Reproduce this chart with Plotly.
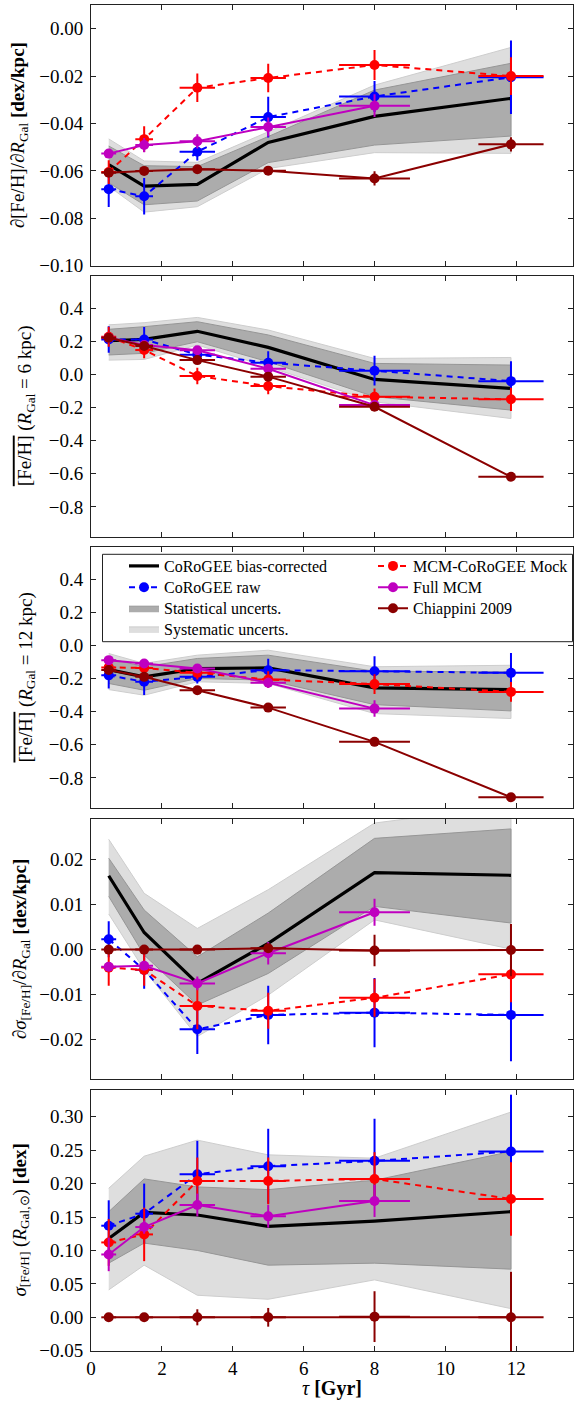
import plotly.graph_objects as go

# ---------------- data ----------------
tau = [0.5, 1.5, 3.0, 5.0, 8.0, 11.85]
tau_err = [0.21, 0.25, 0.5, 0.5, 1.0, 0.92]
tau_mcm = [0.5, 1.5, 3.0, 5.0, 8.0]
tau_mcm_err = [0.21, 0.25, 0.5, 0.5, 1.0]

# Panel 1: d[Fe/H]/dR
grad_corr = [-0.0574, -0.0664, -0.0657, -0.0480, -0.0370, -0.0294]
grad_stat_lo = [-0.0650, -0.0743, -0.0727, -0.0565, -0.0491, -0.0453]
grad_stat_hi = [-0.0495, -0.0578, -0.0582, -0.0455, -0.0259, -0.0146]
grad_sys_lo = [-0.0665, -0.0774, -0.0751, -0.0590, -0.0523, -0.0526]
grad_sys_hi = [-0.0465, -0.0558, -0.0564, -0.0435, -0.0238, -0.0079]
grad_raw = [-0.0677, -0.0707, -0.0519, -0.0373, -0.0286, -0.0205]
grad_raw_err = [0.0075, 0.0077, 0.0037, 0.0086, 0.0065, 0.0155]
grad_mock = [-0.0605, -0.0466, -0.0249, -0.0208, -0.0153, -0.0200]
grad_mock_err = [0.0050, 0.0054, 0.0060, 0.0060, 0.0063, 0.0080]
grad_mcm = [-0.0527, -0.0491, -0.0475, -0.0415, -0.0325]
grad_mcm_err = [0.0015, 0.0030, 0.0030, 0.0040, 0.0048]
grad_chi = [-0.0608, -0.0600, -0.0593, -0.0599, -0.0632, -0.0488]
grad_chi_err = [0.0005, 0.0005, 0.0005, 0.0010, 0.0030, 0.0030]

# Panel 2: mean [Fe/H] at R = 6 kpc
fe6_corr = [0.204, 0.212, 0.261, 0.164, -0.030, -0.084]
fe6_stat_lo = [0.118, 0.128, 0.198, 0.077, -0.134, -0.215]
fe6_stat_hi = [0.273, 0.289, 0.319, 0.239, 0.067, 0.057]
fe6_sys_lo = [0.087, 0.091, 0.178, 0.047, -0.165, -0.266]
fe6_sys_hi = [0.300, 0.313, 0.345, 0.269, 0.097, 0.103]
fe6_raw = [0.212, 0.212, 0.120, 0.071, 0.023, -0.040]
fe6_raw_err = [0.080, 0.075, 0.030, 0.070, 0.090, 0.120]
fe6_mock = [0.228, 0.148, -0.009, -0.070, -0.134, -0.150]
fe6_mock_err = [0.060, 0.050, 0.050, 0.050, 0.050, 0.070]
fe6_mcm = [0.222, 0.178, 0.147, 0.035, -0.185]
fe6_mcm_err = [0.020, 0.020, 0.020, 0.020, 0.030]
fe6_chi = [0.222, 0.172, 0.087, -0.013, -0.195, -0.618]
fe6_chi_err = [0.005, 0.005, 0.010, 0.010, 0.020, 0.020]

# Panel 3: mean [Fe/H] at R = 12 kpc
fe12_corr = [-0.145, -0.189, -0.139, -0.135, -0.256, -0.266]
fe12_stat_lo = [-0.229, -0.270, -0.199, -0.209, -0.357, -0.395]
fe12_stat_hi = [-0.078, -0.128, -0.078, -0.058, -0.155, -0.159]
fe12_sys_lo = [-0.266, -0.300, -0.219, -0.229, -0.411, -0.441]
fe12_sys_hi = [-0.048, -0.108, -0.058, -0.028, -0.128, -0.119]
fe12_raw = [-0.180, -0.219, -0.189, -0.149, -0.155, -0.165]
fe12_raw_err = [0.080, 0.080, 0.040, 0.070, 0.090, 0.120]
fe12_mock = [-0.132, -0.135, -0.165, -0.205, -0.233, -0.280]
fe12_mock_err = [0.040, 0.040, 0.040, 0.050, 0.060, 0.060]
fe12_mcm = [-0.088, -0.108, -0.139, -0.225, -0.381]
fe12_mcm_err = [0.020, 0.020, 0.020, 0.030, 0.050]
fe12_chi = [-0.148, -0.189, -0.270, -0.375, -0.582, -0.917]
fe12_chi_err = [0.010, 0.010, 0.010, 0.010, 0.010, 0.010]

# Panel 4: d sigma[Fe/H] / dR
sgrad_corr = [0.0164, 0.0038, -0.0075, 0.0014, 0.0171, 0.0165]
sgrad_stat_lo = [0.0118, -0.0012, -0.0123, -0.0053, 0.0096, 0.0059]
sgrad_stat_hi = [0.0203, 0.0088, -0.0016, 0.0081, 0.0247, 0.0268]
sgrad_sys_lo = [0.0079, -0.0045, -0.0193, -0.0101, 0.0066, 0.0001]
sgrad_sys_hi = [0.0245, 0.0125, 0.0047, 0.0133, 0.0281, 0.0320]
sgrad_raw = [0.0023, -0.0045, -0.0177, -0.0145, -0.0140, -0.0145]
sgrad_raw_err = [0.0040, 0.0042, 0.0055, 0.0065, 0.0077, 0.0103]
sgrad_mock = [-0.0040, -0.0045, -0.0125, -0.0136, -0.0107, -0.0055]
sgrad_mock_err = [0.0040, 0.0035, 0.0052, 0.0040, 0.0042, 0.0062]
sgrad_mcm = [-0.0038, -0.0036, -0.0075, -0.0008, 0.0083]
sgrad_mcm_err = [0.0008, 0.0008, 0.0015, 0.0025, 0.0030]
sgrad_chi = [0.0, 0.0, 0.0, 0.0003, -0.0002, -0.0001]
sgrad_chi_err = [0.0003, 0.0003, 0.0008, 0.0008, 0.0035, 0.0058]

# Panel 5: sigma[Fe/H] at solar radius
sig_corr = [0.118, 0.157, 0.153, 0.136, 0.144, 0.158]
sig_stat_lo = [0.081, 0.111, 0.100, 0.078, 0.081, 0.072]
sig_stat_hi = [0.158, 0.207, 0.195, 0.191, 0.205, 0.248]
sig_sys_lo = [0.041, 0.078, 0.033, 0.027, 0.056, 0.013]
sig_sys_hi = [0.193, 0.241, 0.265, 0.243, 0.238, 0.307]
sig_raw = [0.137, 0.155, 0.214, 0.226, 0.234, 0.248]
sig_raw_err = [0.038, 0.045, 0.050, 0.056, 0.063, 0.085]
sig_mock = [0.112, 0.124, 0.204, 0.204, 0.207, 0.177]
sig_mock_err = [0.035, 0.040, 0.035, 0.035, 0.040, 0.055]
sig_mcm = [0.094, 0.135, 0.168, 0.151, 0.174]
sig_mcm_err = [0.025, 0.010, 0.017, 0.017, 0.024]
sig_chi = [0.0, 0.0, 0.0, 0.0, 0.001, 0.0]
sig_chi_err = [0.002, 0.002, 0.012, 0.014, 0.038, 0.068]

y_ticks_p1 = [-0.10, -0.08, -0.06, -0.04, -0.02, 0.00]
y_ticks_p23 = [-0.8, -0.6, -0.4, -0.2, 0.0, 0.2, 0.4]
y_ticks_p4 = [-0.02, -0.01, 0.00, 0.01, 0.02]
y_ticks_p5 = [-0.05, 0.00, 0.05, 0.10, 0.15, 0.20, 0.25, 0.30]
x_ticks = [0, 2, 4, 6, 8, 10, 12]

legend_names = {
    "corr": "CoRoGEE bias-corrected",
    "raw": "CoRoGEE raw",
    "stat": "Statistical uncerts.",
    "sys": "Systematic uncerts.",
    "mock": "MCM-CoRoGEE Mock",
    "mcm": "Full MCM",
    "chi": "Chiappini 2009",
}

# ---------------- layout geometry ----------------
W, H = 574, 1401
ML, MR, MT, MB = 91, 1, 5, 50
PW = W - ML - MR
PH = H - MT - MB


def fx(p):
    return (p - ML) / PW


def fy(p):
    return (H - MB - p) / PH


panel_px = [(5, 265.7), (275.7, 536.7), (547.3, 807.7), (819, 1079.3), (1090, 1351)]
y_ranges = [[-0.10, 0.01], [-0.98, 0.597], [-0.98, 0.594], [-0.0288, 0.029], [-0.0504, 0.34]]
y_tickvals = [y_ticks_p1, y_ticks_p23, y_ticks_p23, y_ticks_p4, y_ticks_p5]
y_fmt = [".2f", ".1f", ".1f", ".2f", ".2f"]

FONT = "Liberation Serif"
C_BLUE = "#0000ff"
C_RED = "#ff0000"
C_MAG = "#bf00bf"
C_DRED = "#8b0000"
C_STAT = "rgb(172,172,172)"
C_SYS = "rgb(222,222,222)"

panels = [
    (grad_corr, grad_stat_lo, grad_stat_hi, grad_sys_lo, grad_sys_hi, grad_raw, grad_raw_err,
     grad_mock, grad_mock_err, grad_mcm, grad_mcm_err, grad_chi, grad_chi_err),
    (fe6_corr, fe6_stat_lo, fe6_stat_hi, fe6_sys_lo, fe6_sys_hi, fe6_raw, fe6_raw_err,
     fe6_mock, fe6_mock_err, fe6_mcm, fe6_mcm_err, fe6_chi, fe6_chi_err),
    (fe12_corr, fe12_stat_lo, fe12_stat_hi, fe12_sys_lo, fe12_sys_hi, fe12_raw, fe12_raw_err,
     fe12_mock, fe12_mock_err, fe12_mcm, fe12_mcm_err, fe12_chi, fe12_chi_err),
    (sgrad_corr, sgrad_stat_lo, sgrad_stat_hi, sgrad_sys_lo, sgrad_sys_hi, sgrad_raw, sgrad_raw_err,
     sgrad_mock, sgrad_mock_err, sgrad_mcm, sgrad_mcm_err, sgrad_chi, sgrad_chi_err),
    (sig_corr, sig_stat_lo, sig_stat_hi, sig_sys_lo, sig_sys_hi, sig_raw, sig_raw_err,
     sig_mock, sig_mock_err, sig_mcm, sig_mcm_err, sig_chi, sig_chi_err),
]

fig = go.Figure()


def err(arr, color):
    return dict(type="data", array=arr, color=color, thickness=2, width=0, visible=True)


for i, (corr, slo, shi, ylo, yhi, raw, raw_e, mock, mock_e, mcm, mcm_e, chi, chi_e) in enumerate(panels):
    n = i + 1
    xa = "x" if n == 1 else f"x{n}"
    ya = "y" if n == 1 else f"y{n}"
    first = n == 1
    # systematic band
    fig.add_trace(go.Scatter(
        x=tau + tau[::-1], y=yhi + ylo[::-1], fill="toself", fillcolor=C_SYS,
        line=dict(color="rgb(205,205,205)", width=1), mode="lines",
        name=legend_names["sys"], showlegend=first, legend="legend7",
        xaxis=xa, yaxis=ya, hoverinfo="skip"))
    # statistical band
    fig.add_trace(go.Scatter(
        x=tau + tau[::-1], y=shi + slo[::-1], fill="toself", fillcolor=C_STAT,
        line=dict(color="rgb(150,150,150)", width=1), mode="lines",
        name=legend_names["stat"], showlegend=first, legend="legend5",
        xaxis=xa, yaxis=ya, hoverinfo="skip"))
    # bias-corrected
    fig.add_trace(go.Scatter(
        x=tau, y=corr, mode="lines", line=dict(color="black", width=3.2),
        name=legend_names["corr"], showlegend=first, legend="legend",
        xaxis=xa, yaxis=ya))
    # raw
    fig.add_trace(go.Scatter(
        x=tau, y=raw, mode="lines+markers",
        line=dict(color=C_BLUE, width=2, dash="6px,5px"),
        marker=dict(color=C_BLUE, size=10),
        error_y=err(raw_e, C_BLUE), error_x=err(tau_err, C_BLUE),
        name=legend_names["raw"], showlegend=first, legend="legend3",
        xaxis=xa, yaxis=ya))
    # mock
    fig.add_trace(go.Scatter(
        x=tau, y=mock, mode="lines+markers",
        line=dict(color=C_RED, width=2, dash="6px,5px"),
        marker=dict(color=C_RED, size=10),
        error_y=err(mock_e, C_RED), error_x=err(tau_err, C_RED),
        name=legend_names["mock"], showlegend=first, legend="legend2",
        xaxis=xa, yaxis=ya))
    # full MCM
    fig.add_trace(go.Scatter(
        x=tau_mcm, y=mcm, mode="lines+markers",
        line=dict(color=C_MAG, width=2),
        marker=dict(color=C_MAG, size=10),
        error_y=err(mcm_e, C_MAG), error_x=err(tau_mcm_err, C_MAG),
        name=legend_names["mcm"], showlegend=first, legend="legend4",
        xaxis=xa, yaxis=ya))
    # Chiappini
    fig.add_trace(go.Scatter(
        x=tau, y=chi, mode="lines+markers",
        line=dict(color=C_DRED, width=2),
        marker=dict(color=C_DRED, size=10),
        error_y=err(chi_e, C_DRED), error_x=err(tau_err, C_DRED),
        name=legend_names["chi"], showlegend=first, legend="legend6",
        xaxis=xa, yaxis=ya))

axis_common = dict(
    showline=True, linecolor="#222", linewidth=1, mirror="ticks",
    ticks="inside", ticklen=5, tickwidth=1, tickcolor="#222",
    showgrid=False, zeroline=False,
    tickfont=dict(family=FONT, size=19, color="black"),
)

layout = dict(
    width=W, height=H,
    margin=dict(l=ML, r=MR, t=MT, b=MB),
    paper_bgcolor="white", plot_bgcolor="white",
    font=dict(family=FONT, color="black"),
    hovermode=False,
)

for i in range(5):
    n = i + 1
    top, bot = panel_px[i]
    xkey = "xaxis" if n == 1 else f"xaxis{n}"
    ykey = "yaxis" if n == 1 else f"yaxis{n}"
    ya = "y" if n == 1 else f"y{n}"
    layout[xkey] = dict(
        axis_common, range=[0, 13.6], tickvals=x_ticks, anchor=ya,
        showticklabels=(n == 5), domain=[0, 1],
        **({} if n == 1 else {"matches": "x"}))
    layout[ykey] = dict(
        axis_common, range=y_ranges[i], tickvals=y_tickvals[i], tickformat=y_fmt[i],
        anchor="x" if n == 1 else f"x{n}", domain=[fy(bot), fy(top)],
        ticklabelstandoff=3)

# legends: one per entry, arranged in two columns
leg_rows = [566, 587.3, 608.3, 629]
col1_text, col2_text = 164, 413
leg_pos = {
    "legend": (col1_text - 40, leg_rows[0]),
    "legend2": (col2_text - 40, leg_rows[0]),
    "legend3": (col1_text - 40, leg_rows[1]),
    "legend4": (col2_text - 40, leg_rows[1]),
    "legend5": (col1_text - 40, leg_rows[2]),
    "legend6": (col2_text - 40, leg_rows[2]),
    "legend7": (col1_text - 40, leg_rows[3]),
}
for key, (px, py) in leg_pos.items():
    layout[key] = dict(
        x=fx(px), y=fy(py), xanchor="left", yanchor="middle",
        bgcolor="rgba(0,0,0,0)", borderwidth=0,
        font=dict(family=FONT, size=16, color="black"),
        itemclick=False, itemdoubleclick=False)

fig.update_layout(**layout)

# legend frame
fig.add_shape(type="rect", xref="paper", yref="paper",
              x0=fx(102.5), x1=fx(572.5), y0=fy(641.7), y1=fy(554.3),
              line=dict(color="#222", width=1), fillcolor="white", layer="above")

# axis titles
ov = '<span style="text-decoration:overline">[Fe/H]</span>'
ytitles = [
    ("∂[Fe/H]/∂<i>R</i><sub>Gal</sub> <b>[dex/kpc]</b>", 19),
    (ov + " (<i>R</i><sub>Gal</sub> = 6 kpc)", 26),
    (ov + " (<i>R</i><sub>Gal</sub> = 12 kpc)", 26),
    ("∂<i>σ</i><sub>[Fe/H]</sub>/∂<i>R</i><sub>Gal</sub> <b>[dex/kpc]</b>", 21),
    ("<i>σ</i><sub>[Fe/H]</sub> (<i>R</i><sub>Gal,⊙</sub>) <b>[dex]</b>", 20),
]
for i, (txt, xc) in enumerate(ytitles):
    top, bot = panel_px[i]
    fig.add_annotation(text=txt, xref="paper", yref="paper",
                       x=fx(xc), y=fy((top + bot) / 2), xanchor="center", yanchor="middle",
                       textangle=-90, showarrow=False,
                       font=dict(family=FONT, size=19, color="black"))

fig.add_annotation(text="<i>τ</i> <b>[Gyr]</b>", xref="paper", yref="paper",
                   x=fx(332), y=fy(1389), xanchor="center", yanchor="middle",
                   showarrow=False, font=dict(family=FONT, size=20, color="black"))

fig.write_html("out.html")
